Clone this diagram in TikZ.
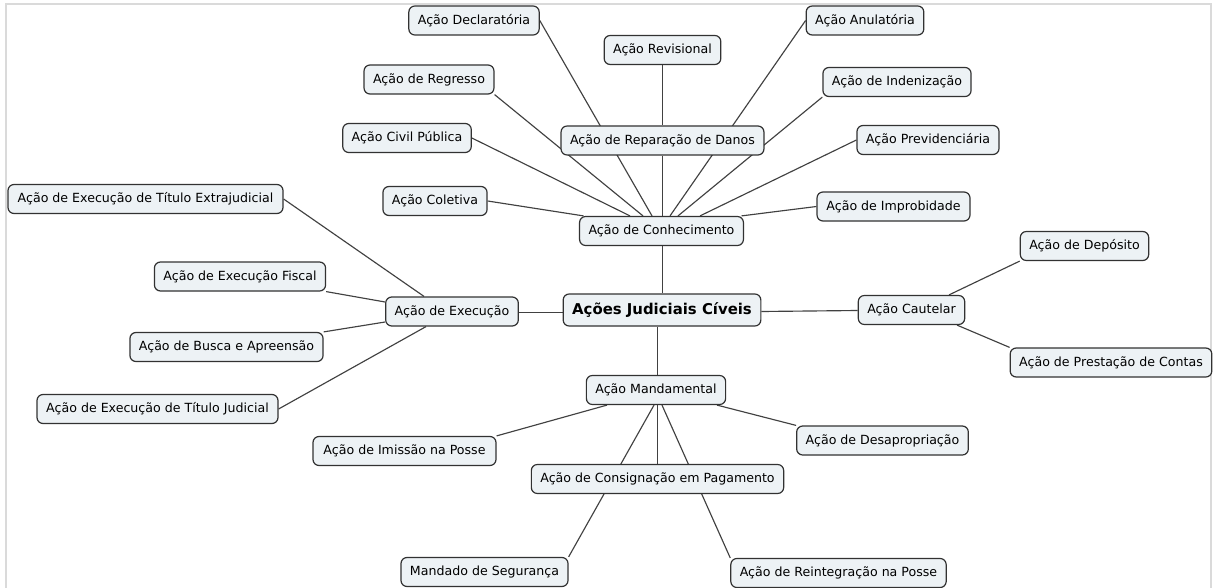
\documentclass[tikz,border=0pt]{standalone}
\usepackage{fontspec}
\setmainfont{DejaVu Sans}
\usetikzlibrary{backgrounds}
\definecolor{boxfill}{RGB}{237,242,245}
\definecolor{boxline}{RGB}{50,50,50}
\definecolor{linkcol}{RGB}{65,65,65}
\definecolor{framecol}{RGB}{218,218,218}
\begin{document}
\begin{tikzpicture}[x=1pt,y=-1pt,
  topic/.style={draw=boxline, fill=boxfill, rounded corners=6pt, line width=1.2pt,
    font=\fontsize{12.6}{14}\selectfont, inner xsep=9pt, inner ysep=0pt,
    minimum height=29pt},
  central/.style={topic, font=\fontsize{14.9}{17}\selectfont\bfseries, minimum height=32pt},
  link/.style={draw=linkcol, line width=1.15pt}]
\useasboundingbox (0,0) rectangle (1217,588);
% outer frame
\draw[framecol, line width=2pt] (6,590) -- (6,4) -- (1211,4) -- (1211,590);

% central topic and main branches
\node[central, minimum width=197pt] (root) at (662,310) {Ações Judiciais Cíveis};
\node[topic, minimum width=163pt] (con) at (661.5,231) {Ação de Conhecimento};
\node[topic, minimum width=130pt] (exe) at (452,311.5) {Ação de Execução};
\node[topic, minimum width=105pt] (cau) at (911.5,310) {Ação Cautelar};
\node[topic, minimum width=137pt] (man) at (656,390) {Ação Mandamental};

% Conhecimento
\node[topic, minimum width=128pt] (dec) at (474,20.5) {Ação Declaratória};
\node[topic, minimum width=115pt] (rev) at (662.5,50) {Ação Revisional};
\node[topic, minimum width=108pt] (anu) at (865,20.5) {Ação Anulatória};
\node[topic, minimum width=128pt] (reg) at (429,79.5) {Ação de Regresso};
\node[topic, minimum width=201pt] (rep) at (662.5,140.5) {Ação de Reparação de Danos};
\node[topic, minimum width=148pt] (ind) at (897,82) {Ação de Indenização};
\node[topic, minimum width=128pt] (civ) at (407,138) {Ação Civil Pública};
\node[topic, minimum width=140pt] (pre) at (928,140) {Ação Previdenciária};
\node[topic, minimum width=104pt] (col) at (435,201) {Ação Coletiva};
\node[topic, minimum width=153pt] (imp) at (893.5,206.5) {Ação de Improbidade};

% Execução
\node[topic, minimum width=275pt] (ext) at (145.5,199) {Ação de Execução de Título Extrajudicial};
\node[topic, minimum width=170pt] (fis) at (240,276.5) {Ação de Execução Fiscal};
\node[topic, minimum width=193pt] (bus) at (226.5,347) {Ação de Busca e Apreensão};
\node[topic, minimum width=241pt] (jud) at (157.5,409) {Ação de Execução de Título Judicial};

% Cautelar
\node[topic, minimum width=127pt] (dep) at (1084.5,246) {Ação de Depósito};
\node[topic, minimum width=200pt] (pc) at (1111,362.5) {Ação de Prestação de Contas};

% Mandamental
\node[topic, minimum width=183pt] (imi) at (404.5,451) {Ação de Imissão na Posse};
\node[topic, minimum width=171pt] (des) at (882.5,440.5) {Ação de Desapropriação};
\node[topic, minimum width=251pt] (cons) at (657.5,479) {Ação de Consignação em Pagamento};
\node[topic, minimum width=165pt] (mds) at (484.5,572) {Mandado de Segurança};
\node[topic, minimum width=215pt] (rei) at (838.5,573) {Ação de Reintegração na Posse};

\begin{pgfonlayer}{background}
  % central topic
  \draw[link] ([xshift=1pt]con.south) -- ([xshift=1pt]con.south |- root.north);
  \draw[link] ([yshift=-1pt]exe.east) -- ([yshift=-1pt]exe.east -| root.west);
  \draw[link] ([yshift=-1.5pt]root.east) -- ([yshift=-0.5pt]cau.west);
  \draw[link] ([xshift=1.5pt]man.north) -- ([xshift=1.5pt]man.north |- root.south);
  % Conhecimento
  \draw[link] (col.east) -- ([xshift=-78pt]con.north);
  \draw[link] (civ.east) -- ([xshift=-31.5pt]con.north);
  \draw[link] (reg.south east) -- ([xshift=-18.5pt]con.north);
  \draw[link] (dec.east) -- ([xshift=-9.5pt]con.north);
  \draw[link] (rev.south) -- (rep.north);
  \draw[link] (rep.south) -- (rep.south |- con.north);
  \draw[link] (anu.west) -- ([xshift=8.5pt]con.north);
  \draw[link] (ind.south west) -- ([xshift=16.5pt]con.north);
  \draw[link] (pre.west) -- ([xshift=38.5pt]con.north);
  \draw[link] (imp.west) -- ([xshift=80pt]con.north);
  % Execução
  \draw[link] (ext.east) -- ([xshift=-28pt]exe.north);
  \draw[link] (fis.south east) -- ([yshift=9.5pt]exe.west);
  \draw[link] (bus.north east) -- ([yshift=-10.5pt]exe.west);
  \draw[link] (jud.east) -- ([xshift=-26pt]exe.south);
  % Cautelar
  \draw[link] (dep.south west) -- ([xshift=37.5pt]cau.north);
  \draw[link] (pc.north west) -- ([xshift=45.5pt]cau.south);
  % Mandamental
  \draw[link] (imi.north east) -- ([xshift=-49pt]man.south);
  \draw[link] (cons.north) -- (cons.north |- man.south);
  \draw[link] (mds.north east) -- ([xshift=-2pt]man.south);
  \draw[link] (rei.north west) -- ([xshift=6pt]man.south);
  \draw[link] (des.north west) -- ([xshift=61pt]man.south);
\end{pgfonlayer}
\end{tikzpicture}
\end{document}
